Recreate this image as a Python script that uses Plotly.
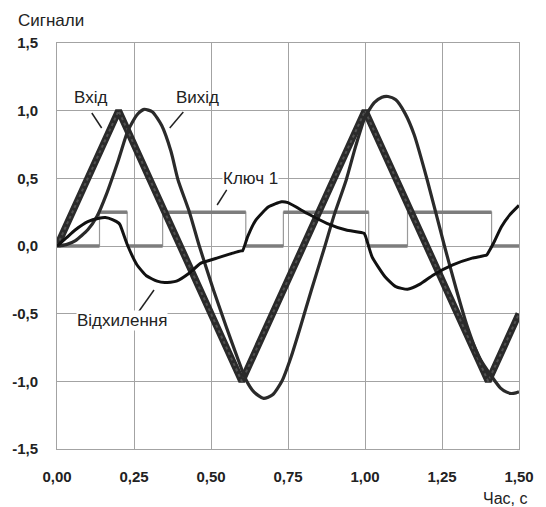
import plotly.graph_objects as go

# Input signal: triangle wave vertices
t_in = [0.0, 0.2, 0.6, 1.0, 1.4, 1.5]
v_in = [0.0, 1.0, -1.0, 1.0, -1.0, -0.5]

# Output signal
t_out = [0.0, 0.03, 0.06, 0.1, 0.13, 0.16, 0.2, 0.23, 0.26, 0.283, 0.31, 0.34, 0.37,
         0.393, 0.43, 0.462, 0.508, 0.55, 0.585, 0.614, 0.64, 0.671, 0.7, 0.73, 0.76,
         0.79, 0.826, 0.87, 0.9, 0.939, 0.97, 1.001, 1.03, 1.055, 1.075, 1.1, 1.13,
         1.16, 1.202, 1.258, 1.297, 1.33, 1.37, 1.412, 1.44, 1.46, 1.475, 1.49, 1.5]
v_out = [0.0, 0.01, 0.04, 0.12, 0.22, 0.38, 0.64, 0.85, 0.97, 1.01, 0.99, 0.89, 0.7,
         0.488, 0.25, 0.0, -0.325, -0.6, -0.82, -0.99, -1.08, -1.126, -1.1, -1.0, -0.82,
         -0.6, -0.325, 0.0, 0.23, 0.488, 0.74, 0.956, 1.06, 1.1, 1.105, 1.08, 0.98,
         0.82, 0.488, 0.0, -0.325, -0.58, -0.82, -0.966, -1.05, -1.08, -1.09, -1.085, -1.077]

# Deviation signal
t_dev = [0.0, 0.03, 0.06, 0.1, 0.136, 0.157, 0.18, 0.2, 0.205, 0.23, 0.26, 0.29, 0.325,
         0.35, 0.388, 0.43, 0.466, 0.519, 0.56, 0.582, 0.6, 0.603, 0.619, 0.645, 0.687,
         0.729, 0.75, 0.813, 0.876, 0.939, 0.997, 1.002, 1.023, 1.065, 1.1, 1.138, 1.18,
         1.222, 1.285, 1.348, 1.395, 1.4, 1.417, 1.443, 1.47, 1.5]
v_dev = [0.0, 0.06, 0.12, 0.18, 0.205, 0.21, 0.195, 0.17, 0.155, 0.0, -0.14, -0.22, -0.26,
         -0.27, -0.26, -0.2, -0.128, -0.09, -0.06, -0.045, -0.035, -0.035, 0.069, 0.19, 0.29,
         0.327, 0.32, 0.24, 0.168, 0.118, 0.094, 0.07, -0.08, -0.227, -0.3, -0.32, -0.28,
         -0.214, -0.14, -0.09, -0.067, -0.05, 0.02, 0.143, 0.23, 0.30]

# Switch signal ("Ключ 1"): switching instants and level held after each
t_key = [0.0, 0.138, 0.228, 0.343, 0.613, 0.735, 1.012, 1.138, 1.411, 1.5]
v_key = [0.0, 0.25, 0.0, 0.25, 0.0, 0.25, 0.0, 0.25, 0.0]

# Axis ticks
x_ticks = [0.0, 0.25, 0.5, 0.75, 1.0, 1.25, 1.5]
x_tick_text = ["0,00", "0,25", "0,50", "0,75", "1,00", "1,25", "1,50"]
y_ticks = [-1.5, -1.0, -0.5, 0.0, 0.5, 1.0, 1.5]
y_tick_text = ["-1,5", "-1,0", "-0,5", "0,0", "0,5", "1,0", "1,5"]

TEXT = "#222222"
GRID = "#a3a3a3"
FONT = "Liberation Sans"

fig = go.Figure()

# switch: thin step outline
step_x, step_y = [], []
for i, lvl in enumerate(v_key):
    step_x += [t_key[i], t_key[i + 1]]
    step_y += [lvl, lvl]
fig.add_trace(go.Scatter(x=step_x, y=step_y, mode="lines",
                         line=dict(color="#9a9a9a", width=1.2), hoverinfo="skip"))
# switch: heavy level segments
seg_x, seg_y = [], []
for i, lvl in enumerate(v_key):
    seg_x += [t_key[i], t_key[i + 1], None]
    seg_y += [lvl, lvl, None]
fig.add_trace(go.Scatter(x=seg_x, y=seg_y, mode="lines",
                         line=dict(color="#7d7d7d", width=3.5), hoverinfo="skip"))

# input
fig.add_trace(go.Scatter(x=t_in, y=v_in, mode="lines",
                         line=dict(color="#2a2a2a", width=7)))
fig.add_trace(go.Scatter(x=t_in, y=v_in, mode="lines",
                         line=dict(color="#505050", width=2, dash="dot")))

# output
fig.add_trace(go.Scatter(x=t_out, y=v_out, mode="lines", line_shape="spline",
                         line=dict(color="#2a2a2a", width=3.2, smoothing=0.6)))

# deviation
fig.add_trace(go.Scatter(x=t_dev, y=v_dev, mode="lines", line_shape="spline",
                         line=dict(color="#111111", width=3, smoothing=0.5)))

# labels with leader lines (data coordinates)
labels = [
    ("Вхід", 0.110, 1.10, (0.113, 0.983, 0.145, 0.872), None),
    ("Вихід", 0.457, 1.10, (0.410, 0.990, 0.366, 0.872), None),
    ("Ключ 1", 0.627, 0.50, (0.551, 0.414, 0.520, 0.303), "white"),
    ("Відхилення", 0.211, -0.554, (0.315, -0.325, 0.262, -0.495), "white"),
]
for text, lx, ly, (x0, y0, x1, y1), bg in labels:
    fig.add_shape(type="line", xref="x", yref="y", x0=x0, y0=y0, x1=x1, y1=y1,
                  line=dict(color="#222222", width=1.5))
    fig.add_annotation(x=lx, y=ly, xref="x", yref="y", text=text, showarrow=False,
                       font=dict(family=FONT, size=17, color=TEXT),
                       bgcolor=bg if bg else "rgba(0,0,0,0)", borderpad=0)

fig.add_annotation(x=-0.088, y=1.055, xref="paper", yref="paper", text="Сигнали",
                   showarrow=False, xanchor="left", yanchor="middle",
                   font=dict(family=FONT, size=17, color=TEXT))
fig.add_annotation(x=1.021, y=-0.123, xref="paper", yref="paper", text="Час, с",
                   showarrow=False, xanchor="right", yanchor="middle",
                   font=dict(family=FONT, size=16, color=TEXT))

fig.update_layout(
    width=546, height=507,
    margin=dict(l=52, r=18, t=43, b=58),
    paper_bgcolor="white", plot_bgcolor="white",
    showlegend=False,
    xaxis=dict(range=[0, 1.5], tickvals=x_ticks, ticktext=x_tick_text,
               showgrid=True, gridcolor=GRID, gridwidth=1, zeroline=False,
               showline=True, linecolor=GRID, linewidth=1, mirror=True,
               ticks="", ticklabelstandoff=14,
               tickfont=dict(family=FONT, size=15, color=TEXT, weight="bold")),
    yaxis=dict(range=[-1.5, 1.5], tickvals=y_ticks, ticktext=y_tick_text,
               showgrid=True, gridcolor=GRID, gridwidth=1, zeroline=False,
               showline=True, linecolor=GRID, linewidth=1, mirror=True,
               ticks="", ticklabelstandoff=15,
               tickfont=dict(family=FONT, size=15, color=TEXT, weight="bold")),
)

fig.write_html("out.html")
